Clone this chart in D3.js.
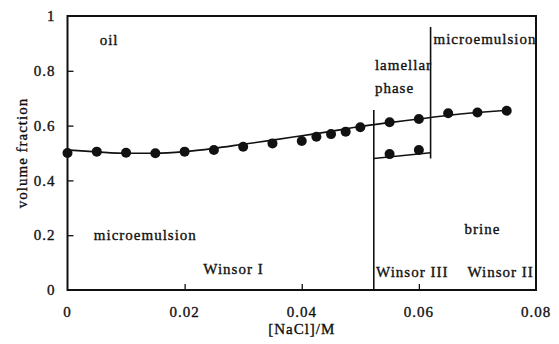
<!DOCTYPE html>
<html>
<head>
<meta charset="utf-8">
<script src="https://cdn.jsdelivr.net/npm/d3@7"></script>
<style>
  html, body { margin: 0; padding: 0; background: #fff; }
  svg text { font-family: "Liberation Serif", "DejaVu Serif", serif; fill: #111; stroke: #111; stroke-width: 0.35px; letter-spacing: 1px; }
</style>
</head>
<body>
<svg id="chart" width="559" height="344"></svg>
<script>
// Upper phase boundary: measured points
const upperX = [0, 0.005, 0.01, 0.015, 0.02, 0.025, 0.03, 0.035, 0.04, 0.0425, 0.045, 0.0475, 0.05, 0.055, 0.06, 0.065, 0.07, 0.075];
const upperY = [0.500, 0.505, 0.501, 0.499, 0.505, 0.511, 0.523, 0.535, 0.544, 0.559, 0.569, 0.578, 0.594, 0.612, 0.624, 0.645, 0.648, 0.654];

// Smooth trend through the upper boundary
const fitX = [0, 0.005, 0.01, 0.015, 0.02, 0.025, 0.03, 0.035, 0.04, 0.045, 0.05, 0.055, 0.06, 0.065, 0.07, 0.075];
const fitY = [0.511, 0.504, 0.499, 0.499, 0.505, 0.517, 0.532, 0.547, 0.563, 0.579, 0.597, 0.611, 0.624, 0.638, 0.648, 0.656];

// Lower boundary of the lamellar phase (Winsor III region)
const lowerX = [0.055, 0.06];
const lowerY = [0.496, 0.511];
const lowerLineX = [0.0523, 0.062];
const lowerLineY = [0.48, 0.501];

// Phase boundaries (vertical lines): x, top, bottom
const boundX = [0.0523, 0.062];
const boundTop = [0.657, 0.96];
const boundBottom = [0, 0.48];

const xTicks = [0, 0.02, 0.04, 0.06, 0.08];
const yTicks = [0, 0.2, 0.4, 0.6, 0.8, 1];

// Region labels: text, x, y (data units)
const labelText = ["oil", "microemulsion", "Winsor I", "lamellar", "phase", "microemulsion", "brine", "Winsor III", "Winsor II"];
const labelX = [0.0055, 0.0045, 0.0232, 0.0525, 0.0525, 0.0625, 0.0678, 0.0527, 0.0683];
const labelY = [0.895, 0.182, 0.058, 0.804, 0.718, 0.898, 0.203, 0.047, 0.047];

const svg = d3.select("#chart");
const margin = { left: 67.5, right: 23, top: 16, bottom: 54 };
const W = 559, H = 344;

const x = d3.scaleLinear().domain([0, 0.08]).range([margin.left, W - margin.right]);
const y = d3.scaleLinear().domain([0, 1]).range([H - margin.bottom, margin.top]);

// Frame
svg.append("rect")
  .attr("x", x(0)).attr("y", y(1))
  .attr("width", x(0.08) - x(0)).attr("height", y(0) - y(1))
  .attr("fill", "none").attr("stroke", "#111").attr("stroke-width", 2);

// Axes with inward ticks
const xAxis = d3.axisTop(x).tickValues(xTicks.slice(1, -1)).tickSize(6).tickFormat("");
svg.append("g").attr("transform", `translate(0,${y(0)})`).call(xAxis)
  .call(g => g.select(".domain").remove())
  .selectAll("line").attr("stroke", "#111").attr("stroke-width", 1.3);

const yAxis = d3.axisRight(y).tickValues(yTicks.slice(1, -1)).tickSize(6).tickFormat("");
svg.append("g").attr("transform", `translate(${x(0)},0)`).call(yAxis)
  .call(g => g.select(".domain").remove())
  .selectAll("line").attr("stroke", "#111").attr("stroke-width", 1.3);

// Tick labels
svg.append("g").selectAll("text").data(xTicks).join("text")
  .attr("x", d => x(d)).attr("y", y(0) + 27)
  .attr("text-anchor", "middle").attr("font-size", 15)
  .text(d => d === 0 ? "0" : d3.format(".2f")(d));

svg.append("g").selectAll("text").data(yTicks).join("text")
  .attr("x", x(0) - 12).attr("y", d => y(d)).attr("dy", "0.35em")
  .attr("text-anchor", "end").attr("font-size", 15)
  .text(d => d === 0 || d === 1 ? String(d) : d3.format(".1f")(d));

// Axis titles
svg.append("text").attr("x", x(0.04)).attr("y", 334)
  .attr("text-anchor", "middle").attr("font-size", 15).text("[NaCl]/M");
svg.append("text")
  .attr("transform", `translate(22,${y(0.5)}) rotate(-90)`)
  .attr("dy", "0.35em").attr("text-anchor", "middle").attr("font-size", 15)
  .text("volume fraction");

// Vertical phase boundaries
svg.append("g").selectAll("line").data(boundX).join("line")
  .attr("x1", d => x(d)).attr("x2", d => x(d))
  .attr("y1", (d, i) => y(boundTop[i])).attr("y2", (d, i) => y(boundBottom[i]))
  .attr("stroke", "#111").attr("stroke-width", 1.6);

// Fitted upper boundary
const fitLine = d3.line().x(d => x(d[0])).y(d => y(d[1])).curve(d3.curveMonotoneX);
svg.append("path").datum(d3.zip(fitX, fitY))
  .attr("d", fitLine).attr("fill", "none").attr("stroke", "#111").attr("stroke-width", 1.6);

// Lower lamellar boundary
svg.append("path").datum(d3.zip(lowerLineX, lowerLineY))
  .attr("d", d3.line().x(d => x(d[0])).y(d => y(d[1])))
  .attr("fill", "none").attr("stroke", "#111").attr("stroke-width", 1.6);

// Data points
svg.append("g").selectAll("circle").data(d3.zip(upperX, upperY).concat(d3.zip(lowerX, lowerY))).join("circle")
  .attr("cx", d => x(d[0])).attr("cy", d => y(d[1])).attr("r", 5).attr("fill", "#111");

// Region labels
svg.append("g").selectAll("text").data(labelText).join("text")
  .attr("x", (d, i) => x(labelX[i])).attr("y", (d, i) => y(labelY[i]))
  .attr("font-size", 15).text(d => d);
</script>
</body>
</html>
